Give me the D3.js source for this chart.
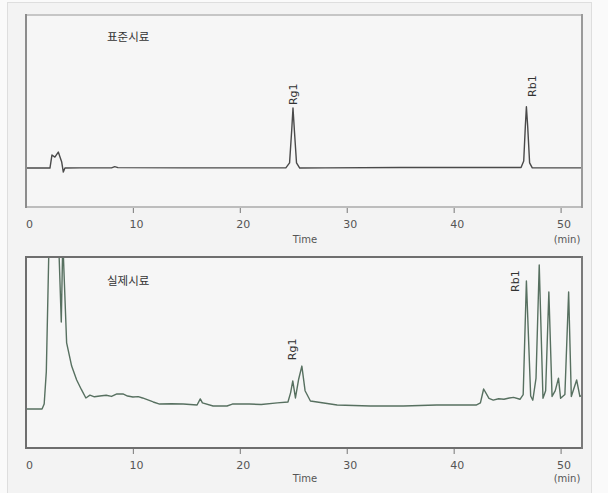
<!DOCTYPE html>
<html>
<head>
<meta charset="utf-8">
<script src="https://cdn.jsdelivr.net/npm/d3@7"></script>
<style>
  html, body { margin: 0; padding: 0; background: #fafafa; }
  svg { display: block; }
</style>
</head>
<body>
<svg id="chart" width="608" height="493"></svg>
<script>
// Retention time axis (min)
const timeDomain = [0, 52];
const timeTicks = [0, 10, 20, 30, 40, 50];

// Standard sample trace: [time (min), detector response]
const standardTrace = [
  [0, 20.3], [2.24, 20.3], [2.43, 27.1], [2.7, 26.0], [3.02, 28.6], [3.34, 23.4],
  [3.49, 18.2], [3.64, 20.3], [5.0, 20.4], [8.0, 20.4], [8.3, 21.0], [8.6, 20.5],
  [15.0, 20.4], [24.3, 20.4], [24.65, 23.0], [24.85, 40.0], [24.97, 51.6],
  [25.1, 40.0], [25.3, 23.0], [25.6, 20.3], [28.0, 20.4], [35.0, 20.6],
  [40.0, 20.6], [46.3, 20.6], [46.55, 24.0], [46.7, 42.0], [46.8, 52.2],
  [46.92, 42.0], [47.1, 23.0], [47.35, 20.4], [52.0, 20.4]
];

// Real sample trace: [time (min), detector response]
const realTrace = [
  [0, 20.4], [1.5, 20.4], [1.7, 23.0], [1.9, 40.0], [2.05, 80.0], [2.18, 115.0],
  [2.5, 150.0], [2.9, 130.0], [3.1, 100.0], [3.3, 66.0], [3.43, 105.0],
  [3.5, 100.0], [3.8, 55.0], [4.27, 42.9], [4.74, 35.6], [5.2, 30.4], [5.6, 26.2],
  [5.98, 27.7], [6.4, 26.8], [6.9, 27.2], [7.5, 27.6], [8.0, 27.0], [8.5, 28.3],
  [9.07, 28.3], [9.5, 27.2], [10.0, 26.7], [10.5, 26.9], [10.9, 26.2], [11.9, 24.1],
  [12.5, 23.0], [13.6, 23.2], [14.7, 23.0], [16.0, 22.5], [16.3, 25.7], [16.5, 23.6],
  [17.5, 22.0], [18.8, 22.0], [19.3, 23.0], [20.9, 23.0], [22.0, 22.8], [23.5, 23.6],
  [24.5, 24.1], [24.75, 29.0], [24.95, 35.1], [25.2, 26.2], [25.5, 36.0],
  [25.8, 42.9], [26.1, 30.0], [26.6, 24.6], [29.1, 22.5], [32.2, 22.0],
  [35.3, 22.0], [38.4, 22.5], [42.1, 22.5], [42.5, 23.6], [42.8, 30.9],
  [43.3, 26.0], [43.7, 25.1], [44.2, 25.8], [44.7, 25.5], [45.2, 26.2],
  [45.6, 26.5], [46.2, 25.5], [46.5, 28.0], [46.8, 87.4], [47.2, 27.2],
  [47.4, 25.0], [47.7, 36.6], [48.0, 95.8], [48.35, 26.0], [48.6, 30.0],
  [48.9, 81.7], [49.2, 27.0], [49.5, 30.0], [49.8, 36.6], [50.0, 26.0],
  [50.4, 28.0], [50.75, 81.7], [51.0, 27.0], [51.5, 35.6], [51.8, 27.0], [52.0, 27.5]
];

// Peak annotations: name, time, response where the label starts
const standardPeaks = [
  { name: "Rg1", t: 24.97, v: 53.1 },
  { name: "Rb1", t: 47.3, v: 57.3 }
];
const realPeaks = [
  { name: "Rg1", t: 24.9, v: 46.0 },
  { name: "Rb1", t: 45.75, v: 81.7 }
];

const panelTitles = ["표준시료", "실제시료"];
const axisTitle = "Time";
const unitLabel = "(min)";

const svg = d3.select("#chart");

// page background and outer frame
svg.append("rect").attr("x", 7.5).attr("y", 2.5).attr("width", 584).attr("height", 500)
  .attr("fill", "#f3f3f3").attr("stroke", "#dedede").attr("stroke-width", 1);

const x = d3.scaleLinear().domain(timeDomain).range([26, 582]);

const panels = [
  { top: 15, bottom: 207, trace: standardTrace, peaks: standardPeaks, title: panelTitles[0],
    color: "#4a4a4a", frame: { top: "#c6c6c6", left: "#8c8c8c", bottom: "#bdbdbd", right: "#9a9a9a" },
    titleY: 41, axisTitleY: 243 },
  { top: 257, bottom: 448, trace: realTrace, peaks: realPeaks, title: panelTitles[1],
    color: "#577060", frame: { top: "#6e6e6e", left: "#6e6e6e", bottom: "#6e6e6e", right: "#7a7a7a" },
    titleY: 285, axisTitleY: 482 }
];

panels.forEach((p, i) => {
  const y = d3.scaleLinear().domain([0, 100]).range([p.bottom, p.top]);
  const g = svg.append("g");

  g.append("rect").attr("x", x.range()[0]).attr("y", p.top)
    .attr("width", x.range()[1] - x.range()[0]).attr("height", p.bottom - p.top)
    .attr("fill", "#f6f6f6");

  const clipId = "clip" + i;
  svg.append("defs").append("clipPath").attr("id", clipId)
    .append("rect").attr("x", x.range()[0]).attr("y", p.top)
    .attr("width", x.range()[1] - x.range()[0]).attr("height", p.bottom - p.top);

  // trace
  const line = d3.line().x(d => x(d[0])).y(d => y(d[1]));
  g.append("path").datum(p.trace)
    .attr("clip-path", `url(#${clipId})`)
    .attr("fill", "none").attr("stroke", p.color).attr("stroke-width", 1.4)
    .attr("stroke-linejoin", "round").attr("d", line);

  // frame
  const [x0, x1] = x.range();
  const frameLines = [
    [x0, p.top, x1, p.top, p.frame.top],
    [x0, p.bottom, x1, p.bottom, p.frame.bottom],
    [x0, p.top, x0, p.bottom, p.frame.left],
    [x1, p.top, x1, p.bottom, p.frame.right]
  ];
  frameLines.forEach(([a, b, c, d, col]) => {
    g.append("line").attr("x1", a).attr("y1", b).attr("x2", c).attr("y2", d)
      .attr("stroke", col).attr("stroke-width", 2).attr("stroke-linecap", "square");
  });

  // time axis
  const axis = d3.axisBottom(x).tickValues(timeTicks).tickSize(5).tickPadding(7)
    .tickFormat(d3.format("d"));
  const ax = g.append("g").attr("transform", `translate(0,${p.bottom + 1})`).call(axis);
  ax.select(".domain").remove();
  ax.selectAll(".tick line").attr("stroke", "#8a8a8a").attr("stroke-width", 1.2)
    .filter(d => d === 0).remove();
  ax.selectAll(".tick text").attr("dx", 3).attr("fill", "#555")
    .style("font-family", "'DejaVu Sans', sans-serif").style("font-size", "11px");

  g.append("text").attr("x", 305).attr("y", p.axisTitleY).attr("text-anchor", "middle")
    .attr("fill", "#555").style("font-family", "'DejaVu Sans', sans-serif").style("font-size", "10px")
    .text(axisTitle);
  g.append("text").attr("x", 567).attr("y", p.axisTitleY).attr("text-anchor", "middle")
    .attr("fill", "#555").style("font-family", "'DejaVu Sans', sans-serif").style("font-size", "10px")
    .text(unitLabel);

  // panel title
  g.append("text").attr("x", 107).attr("y", p.titleY)
    .attr("fill", "#333").style("font-family", "'Noto Sans CJK KR', sans-serif")
    .style("font-size", "11.5px").text(p.title);

  // peak labels, vertical
  g.selectAll(".peak").data(p.peaks).enter().append("text")
    .attr("transform", d => `translate(${x(d.t) + 4},${y(d.v)}) rotate(-90)`)
    .attr("fill", "#333").style("font-family", "'DejaVu Sans', sans-serif")
    .style("font-size", "11px").text(d => d.name);
});
</script>
</body>
</html>
